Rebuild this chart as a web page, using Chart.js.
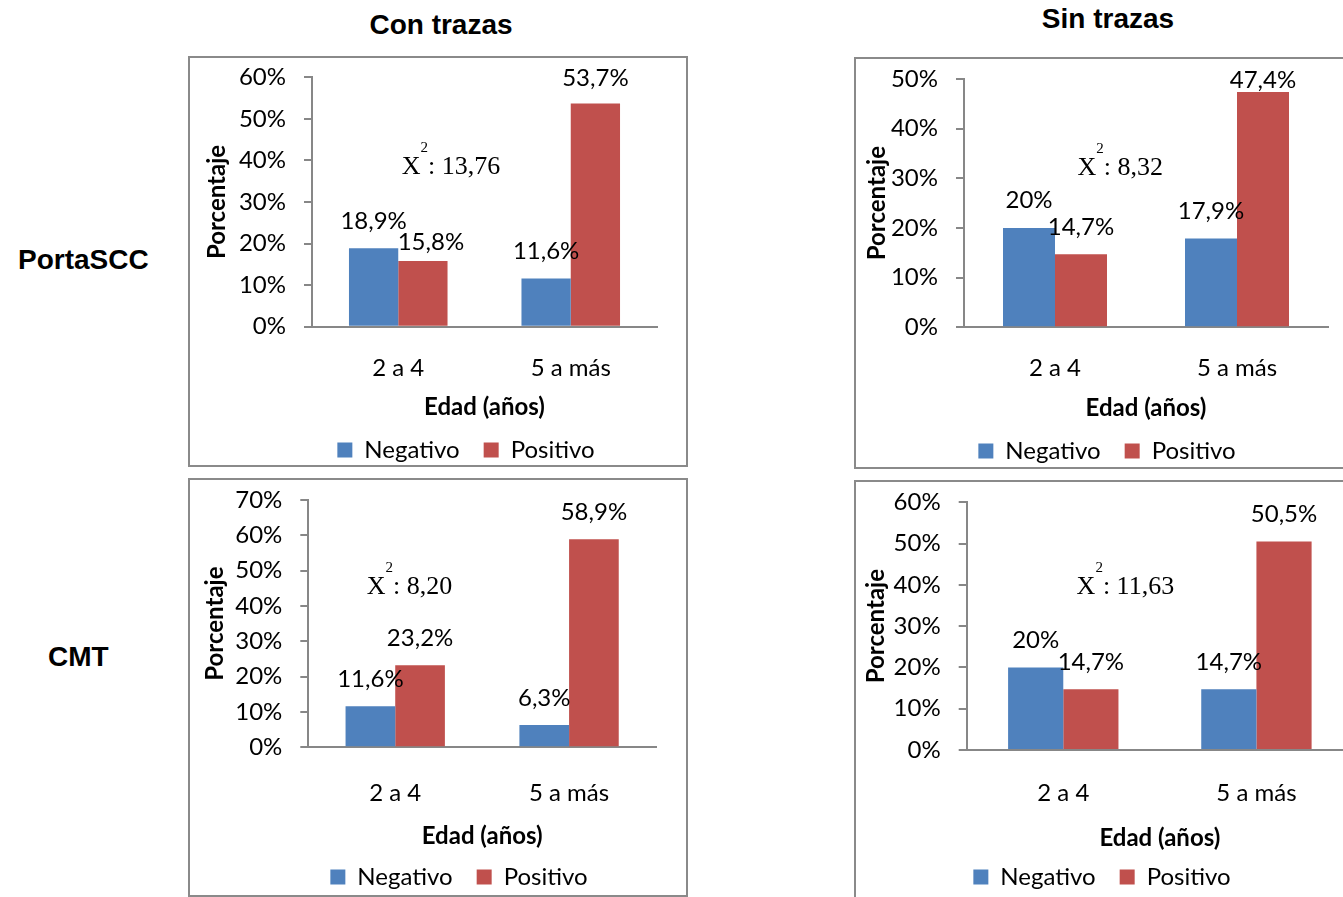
<!DOCTYPE html>
<html lang="es">
<head>
<meta charset="utf-8">
<title>Edad (años): Negativo / Positivo</title>
<script src="https://cdn.jsdelivr.net/npm/chart.js@4.4.1/dist/chart.umd.min.js"></script>
<style>
  html, body { margin: 0; padding: 0; background: #fff; }
  body { width: 1343px; height: 897px; overflow: hidden; position: relative; }
  canvas { position: absolute; }
  .frame { position: absolute; box-sizing: border-box; border: 2px solid #8a8a8a; pointer-events: none; z-index: 2; }
  .head { position: absolute; font-family: 'Liberation Sans', Arial, sans-serif; font-weight: bold;
          font-size: 28px; line-height: 28px; color: #000; white-space: nowrap; }
</style>
</head>
<body>
<div class="head" style="left:341px; top:11px; width:200px; text-align:center;">Con trazas</div>
<div class="head" style="left:1008px; top:5px; width:200px; text-align:center;">Sin trazas</div>
<div class="head" style="left:18px; top:246px;">PortaSCC</div>
<div class="head" style="left:48px; top:643px;">CMT</div>

<script>
// Categories and series
const categories = ['2 a 4', '5 a más'];
const seriesNames = ['Negativo', 'Positivo'];
const seriesColors = ['#4F81BD', '#C0504D'];

// PortaSCC (%)
const portaConNegativo = [18.9, 11.6];
const portaConPositivo = [15.8, 53.7];
const portaSinNegativo = [20, 17.9];
const portaSinPositivo = [14.7, 47.4];

// CMT (%)
const cmtConNegativo = [11.6, 6.3];
const cmtConPositivo = [23.2, 58.9];
const cmtSinNegativo = [20, 14.7];
const cmtSinPositivo = [14.7, 50.5];

// Chi-square statistic per panel and y-axis upper limits
const chiSquare = ['13,76', '8,32', '8,20', '11,63'];
const axisMax = [60, 50, 70, 60];

const axisGray = '#878787';
const FONT = "Lato, 'Open Sans', sans-serif";
const FS = 24;
Chart.defaults.font.family = FONT;
Chart.defaults.font.size = FS;
Chart.defaults.color = '#000';

// Panel geometry (page pixels)
const panels = [
  { id: 'c1', neg: portaConNegativo, pos: portaConPositivo, chi: chiSquare[0], yMax: axisMax[0],
    left: 188, top: 56, width: 500, height: 416, frame: [188, 56, 500, 411],
    yWidth: 124, padTop: 21.3, padRight: 31, xHeight: 87.3, xTickPad: 26.9, xTitlePad: -7.4,
    yTitlePad: 15.1, legendCenter: 278, chiAt: [0.02, 36.8],
    nudge: [{ series: 1, index: 0, dx: 8, dy: 8 }] },
  { id: 'c2', neg: portaSinNegativo, pos: portaSinPositivo, chi: chiSquare[1], yMax: axisMax[1],
    left: 854, top: 57, width: 505, height: 416, frame: [854, 57, 520, 412],
    yWidth: 110, padTop: 22, padRight: 31, xHeight: 87.7, xTickPad: 26.3, xTitlePad: -7.4,
    yTitlePad: 9.1, legendCenter: 253, chiAt: [0.123, 30.7], nudge: [] },
  { id: 'c3', neg: cmtConNegativo, pos: cmtConPositivo, chi: chiSquare[2], yMax: axisMax[2],
    left: 188, top: 478, width: 500, height: 421, frame: [188, 478, 500, 419],
    yWidth: 120.3, padTop: 22, padRight: 32, xHeight: 93.7, xTickPad: 31.6, xTitlePad: -10.1,
    yTitlePad: 12.6, legendCenter: 271, chiAt: [-0.164, 43.4], nudge: [] },
  { id: 'c4', neg: cmtSinNegativo, pos: cmtSinPositivo, chi: chiSquare[3], yMax: axisMax[3],
    left: 854, top: 480, width: 530, height: 419, frame: [854, 480, 540, 440],
    yWidth: 112.7, padTop: 22.3, padRight: 31, xHeight: 91, xTickPad: 28.9, xTitlePad: -11.7,
    yTitlePad: 7.4, legendCenter: 248, chiAt: [0.069, 37.8], nudge: [] }
];

// Moves the legend row to a given horizontal centre
const legendPlace = {
  id: 'legendPlace',
  afterLayout(chart, args, opts) {
    const lg = chart.legend;
    if (!lg || opts.centerX == null) return;
    const dx = opts.centerX - (lg.left + lg.right) / 2;
    lg.left += dx;
    lg.right += dx;
  }
};

// Percentage labels above each bar
const valueLabels = {
  id: 'valueLabels',
  afterDatasetsDraw(chart, args, opts) {
    const { ctx, chartArea } = chart;
    ctx.save();
    ctx.font = FS + 'px ' + FONT;
    ctx.fillStyle = '#000';
    ctx.textAlign = 'center';
    ctx.textBaseline = 'alphabetic';
    chart.data.datasets.forEach((ds, di) => {
      chart.getDatasetMeta(di).data.forEach((bar, i) => {
        const text = String(ds.data[i]).replace('.', ',') + '%';
        const n = (opts.nudge || []).find(o => o.series === di && o.index === i) || { dx: 0, dy: 0 };
        const y = Math.max(bar.y - 19.5, chartArea.top + 8.5);
        ctx.fillText(text, bar.x + n.dx, y + n.dy);
      });
    });
    ctx.restore();
  }
};

// Chi-square note: X² : value
const chiNote = {
  id: 'chiNote',
  afterDatasetsDraw(chart, args, opts) {
    const { ctx, scales } = chart;
    const x0 = scales.x.getPixelForValue(opts.at[0]);
    const base = scales.y.getPixelForValue(opts.at[1]);
    const serif = "'Liberation Serif', 'Times New Roman', serif";
    ctx.save();
    ctx.fillStyle = '#000';
    ctx.textAlign = 'left';
    ctx.textBaseline = 'alphabetic';
    ctx.font = '26px ' + serif;
    ctx.fillText('X', x0, base);
    const wX = ctx.measureText('X').width;
    ctx.font = '15px ' + serif;
    ctx.fillText('2', x0 + wX, base - 22);
    const w2 = ctx.measureText('2').width;
    ctx.font = '26px ' + serif;
    ctx.fillText(': ' + opts.value, x0 + wX + w2, base);
    ctx.restore();
  }
};

panels.forEach(p => {
  const canvas = document.createElement('canvas');
  canvas.id = p.id;
  canvas.width = p.width;
  canvas.height = p.height;
  canvas.style.left = p.left + 'px';
  canvas.style.top = p.top + 'px';
  document.body.appendChild(canvas);

  const frame = document.createElement('div');
  frame.className = 'frame';
  frame.style.left = p.frame[0] + 'px';
  frame.style.top = p.frame[1] + 'px';
  frame.style.width = p.frame[2] + 'px';
  frame.style.height = p.frame[3] + 'px';
  document.body.appendChild(frame);

  new Chart(canvas, {
    type: 'bar',
    data: {
      labels: categories,
      datasets: [
        { label: seriesNames[0], data: p.neg, backgroundColor: seriesColors[0] },
        { label: seriesNames[1], data: p.pos, backgroundColor: seriesColors[1] }
      ]
    },
    options: {
      responsive: false,
      animation: false,
      devicePixelRatio: 1,
      categoryPercentage: 0.5714,
      barPercentage: 1,
      layout: { autoPadding: false, padding: { top: p.padTop, right: p.padRight, bottom: 0, left: 0 } },
      scales: {
        x: {
          grid: { display: true, drawOnChartArea: false, drawTicks: false },
          border: { display: true, color: axisGray, width: 2 },
          ticks: { padding: p.xTickPad, color: '#000', font: { size: FS } },
          title: { display: true, text: 'Edad (años)', color: '#000',
                   font: { size: FS, weight: 'bold' }, padding: { top: 0, bottom: p.xTitlePad } },
          afterFit: s => { s.height = p.xHeight; s.paddingLeft = 0; s.paddingRight = 0; }
        },
        y: {
          min: 0,
          max: p.yMax,
          ticks: { stepSize: 10, padding: 18, color: '#000', font: { size: FS },
                   callback: v => v + '%' },
          grid: { display: true, drawOnChartArea: false, drawTicks: true, tickLength: 8,
                  color: axisGray, lineWidth: 2 },
          border: { display: true, color: axisGray, width: 2 },
          title: { display: true, text: 'Porcentaje', color: '#000',
                   font: { size: FS, weight: 'bold' }, padding: { top: p.yTitlePad, bottom: 0 } },
          afterFit: s => { s.width = p.yWidth; s.paddingTop = 0; s.paddingBottom = 0; }
        }
      },
      plugins: {
        legend: {
          position: 'bottom',
          labels: { boxWidth: 15, boxHeight: 15, padding: 24, color: '#000', font: { size: FS } }
        },
        tooltip: { enabled: false },
        legendPlace: { centerX: p.legendCenter },
        valueLabels: { nudge: p.nudge },
        chiNote: { at: p.chiAt, value: p.chi }
      }
    },
    plugins: [legendPlace, valueLabels, chiNote]
  });
});
</script>
</body>
</html>
